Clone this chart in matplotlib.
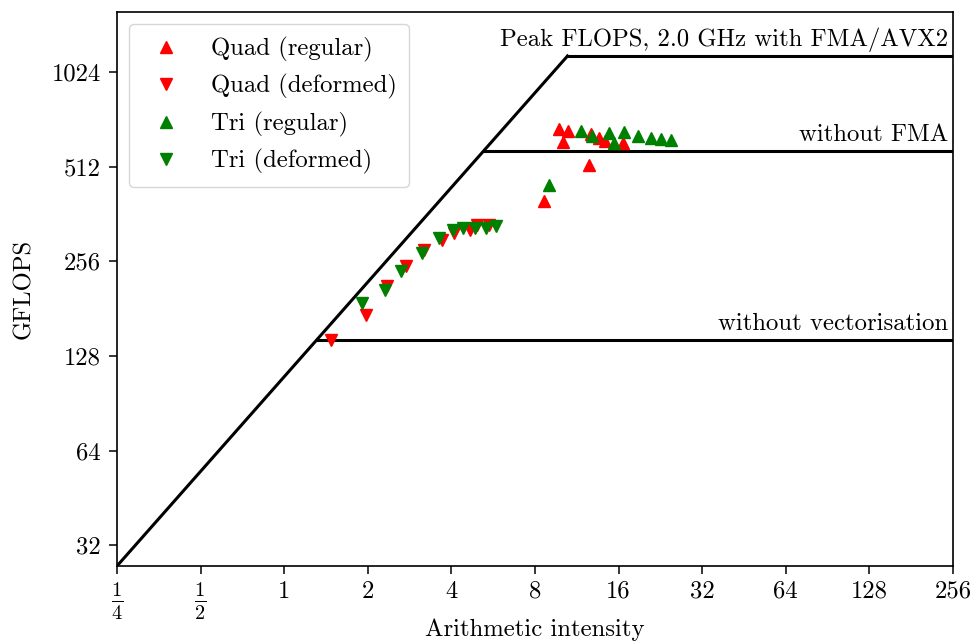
import numpy as np
import matplotlib
matplotlib.use("Agg")
import matplotlib.pyplot as plt

plt.rcParams['font.family'] = ['cmr10', 'DejaVu Serif']
plt.rcParams['mathtext.fontset'] = 'cm'
plt.rcParams['axes.formatter.use_mathtext'] = True
plt.rcParams['font.size'] = 17.8

# ---- data ----
bandwidth = 110.0  # GB/s
peak_labels = ["Peak FLOPS, 2.0 GHz with FMA/AVX2", "without FMA", "without vectorisation"]
peak_values = [1152, 576, 144]

quad_reg_x = [8.61, 9.75, 10.08, 10.54, 12.50, 12.74, 13.55, 14.24, 16.63]
quad_reg_y = [398, 675, 612, 667, 518, 652, 631, 617, 608]

quad_def_x = [1.48, 1.975, 2.35, 2.75, 3.20, 3.70, 4.10, 4.66, 4.95, 5.45]
quad_def_y = [144, 173, 213, 248, 279, 300, 314, 322, 335, 335]

tri_reg_x = [9.02, 11.67, 12.86, 14.76, 15.39, 16.72, 18.78, 20.87, 22.80, 24.78]
tri_reg_y = [447, 664, 643, 654, 608, 661, 643, 632, 627, 623]

tri_def_x = [1.906, 2.30, 2.64, 3.14, 3.62, 4.04, 4.41, 4.88, 5.34, 5.81]
tri_def_y = [189, 208, 238, 272, 304, 322, 326, 327, 327, 331]

xticks = [0.25, 0.5, 1, 2, 4, 8, 16, 32, 64, 128, 256]
xticklabels = [r'$\frac{1}{4}$', r'$\frac{1}{2}$', '1', '2', '4', '8', '16', '32', '64', '128', '256']
yticks = [32, 64, 128, 256, 512, 1024]
yticklabels = ['32', '64', '128', '256', '512', '1024']

# ---- figure ----
fig = plt.figure(figsize=(9.76, 6.44), dpi=100)
ax = fig.add_axes([117/976, 1 - 566/644, (953-117)/976, (566-12)/644])

ax.set_xscale('log', base=2)
ax.set_yscale('log', base=2)
xmin, xmax = xticks[0], xticks[-1]
ax.set_xlim(xmin, xmax)
ax.set_ylim(bandwidth * xmin, 1590)

lw = 2.2
top = max(peak_values)
ax.plot([xmin, top / bandwidth], [bandwidth * xmin, top], color='black', lw=lw, zorder=2)
for lab, p in zip(peak_labels, peak_values):
    ax.plot([p / bandwidth, xmax], [p, p], color='black', lw=lw, zorder=2)
    ax.annotate(lab, xy=(xmax, p), xytext=(-3.5, 7), textcoords='offset points',
                ha='right', va='baseline')

ms = 8.6
ax.plot(quad_reg_x, quad_reg_y, '^', color='red', ms=ms, ls='none', label='Quad (regular)', zorder=3)
ax.plot(quad_def_x, quad_def_y, 'v', color='red', ms=ms, ls='none', label='Quad (deformed)', zorder=3)
ax.plot(tri_reg_x, tri_reg_y, '^', color='green', ms=ms, ls='none', label='Tri (regular)', zorder=3)
ax.plot(tri_def_x, tri_def_y, 'v', color='green', ms=ms, ls='none', label='Tri (deformed)', zorder=3)

ax.set_xticks(xticks)
ax.set_xticklabels(xticklabels)
for t in ax.get_xticklabels()[:2]:
    t.set_fontsize(21)
ax.set_yticks(yticks)
ax.set_yticklabels(yticklabels)
ax.minorticks_off()
ax.tick_params(length=5.5, width=1.1, labelsize=17.8)
ax.tick_params(axis='y', pad=6)
ax.tick_params(axis='x', pad=5)
for t in ax.get_xticklabels()[:2]:
    t.set_fontsize(21)
for s in ax.spines.values():
    s.set_linewidth(1.2)

ax.set_xlabel('Arithmetic intensity', va='top')
ax.xaxis.set_label_coords(0.5, -0.094)
ax.set_ylabel('GFLOPS', labelpad=12)

leg = ax.legend(loc='upper left', numpoints=1, handlelength=2.0, handletextpad=0.8,
                borderpad=0.5, labelspacing=0.5, fontsize=17.8)

fig.savefig('out.png', dpi=100)
